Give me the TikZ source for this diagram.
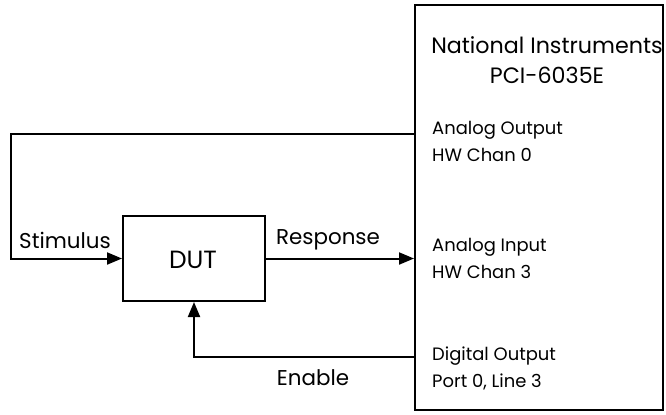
\documentclass[tikz,border=0pt]{standalone}
\usepackage{fontspec}
\setmainfont{Poppins}
\usepackage{tikz}
\usetikzlibrary{arrows.meta, positioning, calc}

\begin{document}
\begin{tikzpicture}[
    x=1bp, y=-1bp,
    box/.style={rectangle, draw, line width=2bp, inner sep=0pt},
    port/.style={anchor=west, align=left, font=\fontsize{18}{27}\selectfont, inner sep=0pt},
    sig/.style={font=\fontsize{21.5}{24}\selectfont, inner sep=0pt},
    arrow/.style={-{Triangle[length=15bp, width=12bp]}, line width=2bp}
]
\useasboundingbox (0,0) rectangle (666,414);

% DAQ board
\node[box, minimum width=248bp, minimum height=405bp] (ni) at (539,207.5) {};
\node[align=center, font=\fontsize{22.3}{30}\selectfont, inner sep=0pt] (title) at (547,60) {National Instruments\\PCI-6035E};
\node[port] (ao) at (432,141) {Analog Output\\HW Chan 0};
\node[port] (ai) at (432,258) {Analog Input\\HW Chan 3};
\node[port] (do) at (432,368) {Digital Output\\Port 0, Line 3};

% device under test
\node[box, minimum width=142bp, minimum height=85bp] (dut) at (194,258.5) {};
\node[font=\fontsize{25}{28}\selectfont, inner sep=0pt] (dutlabel) at (193,260) {DUT};

\coordinate (aoport) at (ni.west |- 0,134);
\coordinate (loopcorner) at (11,134);
\coordinate (doport) at (ni.west |- 0,357);

\draw[arrow] (aoport) -- (loopcorner) |- (dut.west);
\draw[arrow] (dut.east) -- (dut.east -| ni.west);
\draw[arrow] (doport) -| (dut.south);

\node[sig] (stim) at (65,240) {Stimulus};
\node[sig] (resp) at (328,240) {Response};
\node[sig] (enable) at (313,378) {Enable};
\end{tikzpicture}
\end{document}
